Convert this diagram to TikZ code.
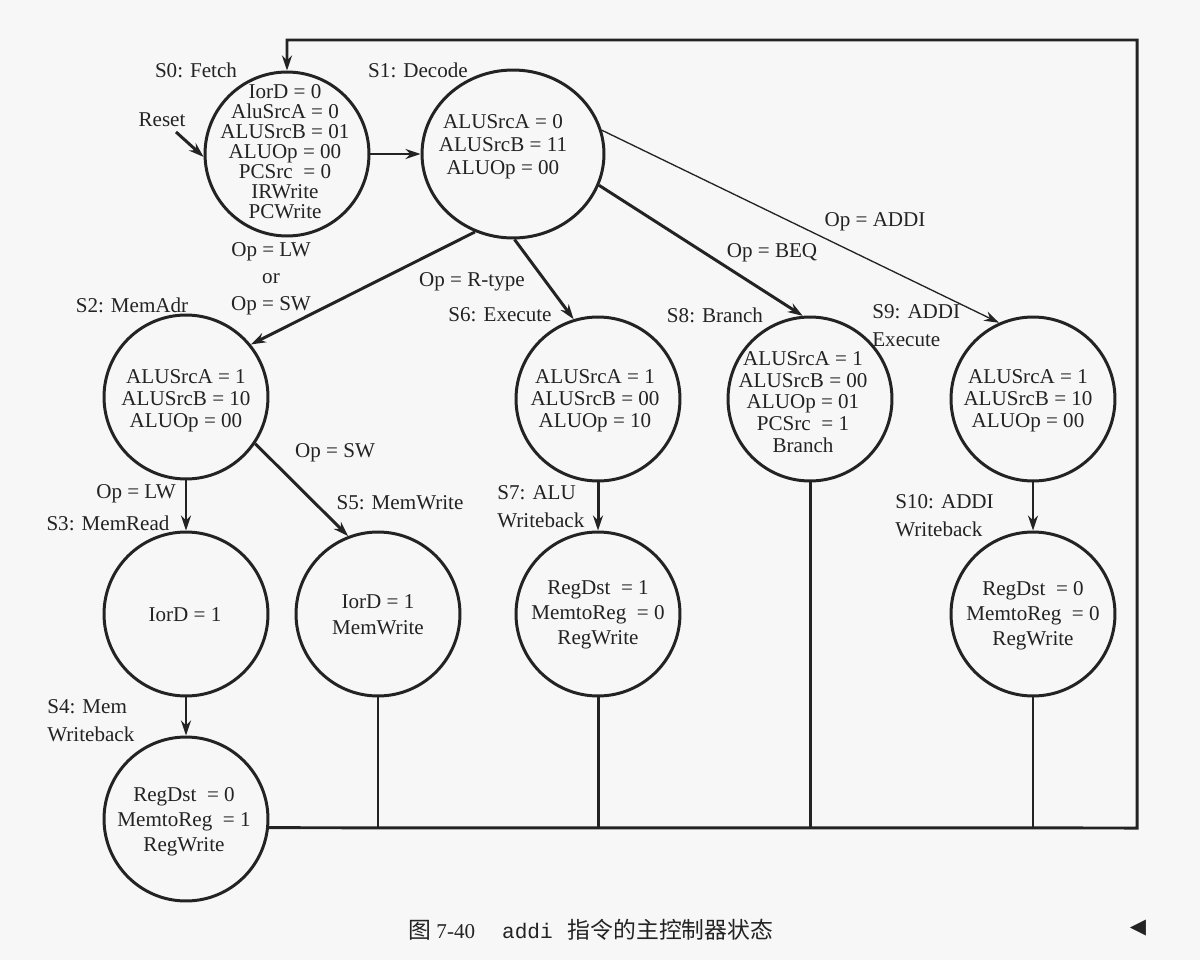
\documentclass[tikz,border=0pt]{standalone}
\usepackage{fontspec}
\setmainfont{Liberation Serif}
\setmonofont{Liberation Mono}
\newfontfamily\cjkfont{Noto Sans CJK SC}
\newfontfamily\symfont{DejaVu Sans}
\usetikzlibrary{arrows.meta,shapes.geometric}
\definecolor{myink}{RGB}{35,35,35}
\definecolor{mypaper}{RGB}{247,247,247}

\tikzset{
    state/.style={circle, draw=myink, line width=1.7pt, minimum size=3.28cm, inner sep=0pt},
    statetxt/.style={align=center, text=myink, inner sep=0pt},
    tag/.style={text=myink, inner sep=0pt, font=\fontsize{12}{16}\selectfont},
    wire/.style={draw=myink, line width=1.7pt},
    thinwire/.style={draw=myink, line width=0.75pt},
    arr/.style={-{Stealth[length=3mm, width=2mm]}},
}

\begin{document}
\begin{tikzpicture}[x=0.02cm, y=-0.02cm]
    \fill[mypaper] (0,0) rectangle (1200,960);
    \useasboundingbox (0,0) rectangle (1200,960);

    % States.
    \node[state] (S0) at (287,154) {};
    \node[state, ellipse, minimum width=3.64cm, minimum height=3.36cm] (S1) at (513,154) {};
    \node[state] (S2) at (186,397) {};
    \node[state] (S6) at (598,399) {};
    \node[state] (S8) at (810,399) {};
    \node[state] (S9) at (1033,399) {};
    \node[state] (S3) at (186,614) {};
    \node[state] (S5) at (378,614) {};
    \node[state] (S7) at (598,614) {};
    \node[state] (S10) at (1033,614) {};
    \node[state] (S4) at (186,819) {};

    % Outputs inside the states.
    \node[statetxt, font=\fontsize{12}{11.4}\selectfont] (S0t) at (285,152)
        {IorD = 0\\AluSrcA = 0\\ALUSrcB = 01\\ALUOp = 00\\PCSrc~ = 0\\IRWrite\\PCWrite};
    \node[statetxt, font=\fontsize{12}{13.1}\selectfont] (S1t) at (503,147)
        {ALUSrcA = 0\\ALUSrcB = 11\\ALUOp = 00};
    \node[statetxt, font=\fontsize{12}{12.5}\selectfont] (S2t) at (186,401)
        {ALUSrcA = 1\\ALUSrcB = 10\\ALUOp = 00};
    \node[statetxt, font=\fontsize{12}{12.5}\selectfont] (S6t) at (595,401)
        {ALUSrcA = 1\\ALUSrcB = 00\\ALUOp = 10};
    \node[statetxt, font=\fontsize{12}{12.4}\selectfont] (S8t) at (803,402)
        {ALUSrcA = 1\\ALUSrcB = 00\\ALUOp = 01\\PCSrc~ = 1\\Branch};
    \node[statetxt, font=\fontsize{12}{12.5}\selectfont] (S9t) at (1028,401)
        {ALUSrcA = 1\\ALUSrcB = 10\\ALUOp = 00};
    \node[statetxt, font=\fontsize{12}{14}\selectfont] (S3t) at (185,615) {IorD = 1};
    \node[statetxt, font=\fontsize{12}{14.8}\selectfont] (S5t) at (378,615) {IorD = 1\\MemWrite};
    \node[statetxt, font=\fontsize{12}{14.2}\selectfont] (S7t) at (598,615)
        {RegDst~ = 1\\MemtoReg~ = 0\\RegWrite};
    \node[statetxt, font=\fontsize{12}{14.2}\selectfont] (S10t) at (1033,616)
        {RegDst~ = 0\\MemtoReg~ = 0\\RegWrite};
    \node[statetxt, font=\fontsize{12}{14.2}\selectfont] (S4t) at (184,822)
        {RegDst~ = 0\\MemtoReg~ = 1\\RegWrite};

    % State names and conditions.
    \node[tag] (lS0) at (196,70) {S0: Fetch};
    \node[tag] (lRst) at (162,120) {Reset};
    \node[tag] (lS1) at (418,70) {S1: Decode};
    \node[tag, align=center, font=\fontsize{12}{15.4}\selectfont] (lMem) at (271,279) {Op = LW\\or\\Op = SW};
    \node[tag] (lS2) at (132,305) {S2: MemAdr};
    \node[tag] (lRt) at (472,282) {Op = R-type};
    \node[tag] (lS6) at (500,315) {S6: Execute};
    \node[tag] (lBeq) at (772,253) {Op = BEQ};
    \node[tag] (lAddi) at (875,222) {Op = ADDI};
    \node[tag] (lS8) at (715,315) {S8: Branch};
    \node[tag, align=left, anchor=west] (lS9) at (872,326) {S9: ADDI\\Execute};
    \node[tag] (lSw) at (335,453) {Op = SW};
    \node[tag] (lLw) at (136,494) {Op = LW};
    \node[tag] (lS5) at (400,503) {S5: MemWrite};
    \node[tag] (lS3) at (108,523) {S3: MemRead};
    \node[tag, align=left, anchor=west] (lS7) at (497,507) {S7: ALU\\Writeback};
    \node[tag, align=left, anchor=west] (lS10) at (895,516) {S10: ADDI\\Writeback};
    \node[tag, align=left, anchor=west] (lS4) at (47,721) {S4: Mem\\Writeback};

    % Transitions.
    \coordinate (rst) at (176,132);
    \draw[wire, arr] (rst) -- (S0.182);
    \draw[wire, arr] (S0.east) -- (S1.west);
    \draw[wire, arr] (S1.244) -- (S2.39);
    \draw[wire, arr] (S1.271) -- (S6.107);
    \draw[wire, arr] (S1.-20) -- (S8.95);
    \draw[thinwire, arr] (S1.15) -- (S9.114);
    \draw[wire, arr] (S2.south) -- (S3.north);
    \draw[wire, arr] (S2.-34) -- (S5.111);
    \draw[wire, arr] (S3.south) -- (S4.north);
    \draw[wire, arr] (S6.south) -- (S7.north);
    \draw[thinwire, arr] (S9.south) -- (S10.north);

    % Return to fetch.
    \begin{scope}
        \coordinate (rb) at (1137,828);
        \coordinate (rt) at (1137,40);
        \draw[wire, arr] (S4.-6) -- (rb) -- (rt) -| (S0.north);
        \draw[wire] (S5.south) -- (S5.south |- rb);
        \draw[wire] (S7.south) -- (S7.south |- rb);
        \draw[wire] (S8.south) -- (S8.south |- rb);
        \draw[thinwire] (S10.south) -- (S10.south |- rb);
    \end{scope}

    % Caption.
    \node[anchor=west, text=myink, inner sep=0pt, font=\fontsize{12}{14}\selectfont] (cap) at (408,930)
        {{\cjkfont\fontsize{13}{14}\selectfont 图}\ 7-40\hspace{0.54cm}\texttt{addi}\hspace{0.3cm}{\cjkfont\fontsize{13}{14}\selectfont 指令的主控制器状态}};
    \node[text=myink, inner sep=0pt, font=\symfont\fontsize{12}{14}\selectfont] (tri) at (1138,928) {◀};
\end{tikzpicture}
\end{document}
